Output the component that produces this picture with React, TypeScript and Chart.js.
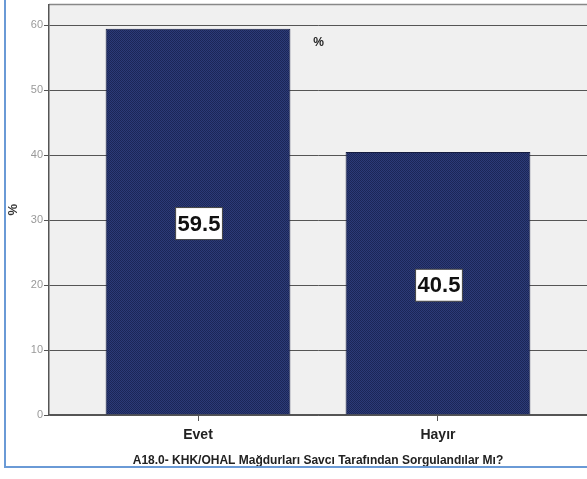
import React, { useEffect, useRef } from "react";
import { Chart, registerables } from "chart.js";

Chart.register(...registerables);

const categories: string[] = ["Evet", "Hayır"];
const percentValues: number[] = [59.5, 40.5];
const yTickValues: number[] = [0, 10, 20, 30, 40, 50, 60];
const xAxisTitle = "A18.0- KHK/OHAL Mağdurları Savcı Tarafından Sorgulandılar Mı?";
const yAxisTitle = "%";
const legendLabel = "%";

const FONT = "Arial, 'Liberation Sans', sans-serif";

function makePattern(): CanvasPattern | string {
  const c = document.createElement("canvas");
  c.width = 2;
  c.height = 2;
  const g = c.getContext("2d");
  if (!g) return "#1f2b5e";
  g.fillStyle = "#1b2657";
  g.fillRect(0, 0, 2, 2);
  g.fillStyle = "#2c3b78";
  g.fillRect(0, 0, 1, 1);
  g.fillRect(1, 1, 1, 1);
  const p = g.createPattern(c, "repeat");
  return p || "#1f2b5e";
}

const bgPlugin = {
  id: "bgPlugin",
  beforeDraw(chart: any) {
    const { ctx, chartArea } = chart;
    ctx.save();
    ctx.fillStyle = "#f0f0f0";
    ctx.fillRect(chartArea.left, chartArea.top, chartArea.right - chartArea.left, chartArea.bottom - chartArea.top);
    ctx.strokeStyle = "#888";
    ctx.lineWidth = 1.5;
    ctx.beginPath();
    ctx.moveTo(chartArea.left, chartArea.top);
    ctx.lineTo(chartArea.right, chartArea.top);
    ctx.stroke();
    ctx.restore();
  },
  afterDatasetsDraw(chart: any) {
    const { ctx } = chart;
    const meta = chart.getDatasetMeta(0);
    ctx.save();
    meta.data.forEach((el: any, i: number) => {
      const cx = el.x + 1;
      const cy = (el.y + el.base) / 2 + 2;
      const txt = percentValues[i].toFixed(1);
      ctx.font = "bold 22px " + FONT;
      const w = ctx.measureText(txt).width + 4;
      const h = 32;
      ctx.fillStyle = "#ffffff";
      ctx.fillRect(cx - w / 2, cy - h / 2, w, h);
      ctx.strokeStyle = "#444";
      ctx.lineWidth = 1;
      ctx.strokeRect(cx - w / 2, cy - h / 2, w, h);
      ctx.fillStyle = "#111";
      ctx.textAlign = "center";
      ctx.textBaseline = "middle";
      ctx.fillText(txt, cx, cy + 1);
    });
    ctx.font = "bold 12px " + FONT;
    ctx.fillStyle = "#222";
    ctx.textAlign = "left";
    ctx.textBaseline = "middle";
    const xs = chart.scales.x;
    ctx.fillText(legendLabel, xs.getPixelForValue(1.48), chart.scales.y.getPixelForValue(57.3));
    ctx.restore();
  },
};

export default function App() {
  const ref = useRef<HTMLCanvasElement | null>(null);
  useEffect(() => {
    if (!ref.current) return;
    const pattern = makePattern();
    const chart = new Chart(ref.current, {
      type: "bar",
      data: {
        datasets: [
          {
            label: legendLabel,
            data: percentValues.map((v, i) => ({ x: i + 1, y: v })) as any,
            backgroundColor: pattern as any,
            borderColor: "#141c40",
            borderWidth: 1,
            categoryPercentage: 1,
            barPercentage: 0.77,
          },
        ],
      },
      options: {
        animation: false,
        responsive: false,
        maintainAspectRatio: false,
        layout: { padding: { top: 0, right: 0, bottom: 0, left: 0 } },
        plugins: { legend: { display: false }, tooltip: { enabled: false } },
        scales: {
          x: {
            type: "linear",
            min: 0.379,
            max: 2.621,
            offset: false,
            afterBuildTicks(scale: any) {
              scale.ticks = categories.map((_, i) => ({ value: i + 1 }));
            },
            afterFit(scale: any) {
              scale.height = 64;
            },
            ticks: {
              callback: (v: any) => categories[Number(v) - 1] ?? "",
              font: { family: FONT, size: 14, weight: "bold" },
              color: "#222",
              padding: 6,
              maxRotation: 0,
              autoSkip: false,
            },
            grid: { drawOnChartArea: false, tickLength: 6, color: "#555", offset: false },
            border: { color: "#555", width: 1.5 },
            title: {
              display: true,
              text: xAxisTitle,
              font: { family: FONT, size: 12, weight: "bold" },
              color: "#222",
              padding: { top: 4, bottom: 11 },
            },
          },
          y: {
            min: 0,
            max: 63.2,
            afterBuildTicks(scale: any) {
              scale.ticks = yTickValues.map((v) => ({ value: v }));
            },
            afterFit(scale: any) {
              scale.width = 49;
            },
            ticks: {
              font: { family: FONT, size: 11 },
              color: "#999",
              padding: 1,
            },
            grid: { color: "#555", lineWidth: 1, tickLength: 5 },
            border: { color: "#555", width: 1.5 },
            title: {
              display: true,
              text: yAxisTitle,
              font: { family: FONT, size: 13, weight: "bold" },
              color: "#333",
              padding: { top: 6, bottom: 4 },
            },
          },
        },
      },
      plugins: [bgPlugin],
    });
    return () => chart.destroy();
  }, []);
  return (
    <div style={{ position: "fixed", left: 0, top: 0, width: 587, height: 479, background: "#fff", overflow: "hidden" }}>
      <canvas ref={ref} width={587} height={482} style={{ position: "absolute", left: 0, top: -3 }} />
      <div
        style={{
          position: "absolute",
          left: 4,
          top: -4,
          width: 620,
          height: 472,
          borderLeft: "2px solid #6a9ad6",
          borderBottom: "2px solid #6a9ad6",
          boxSizing: "border-box",
          pointerEvents: "none",
        }}
      />
    </div>
  );
}
